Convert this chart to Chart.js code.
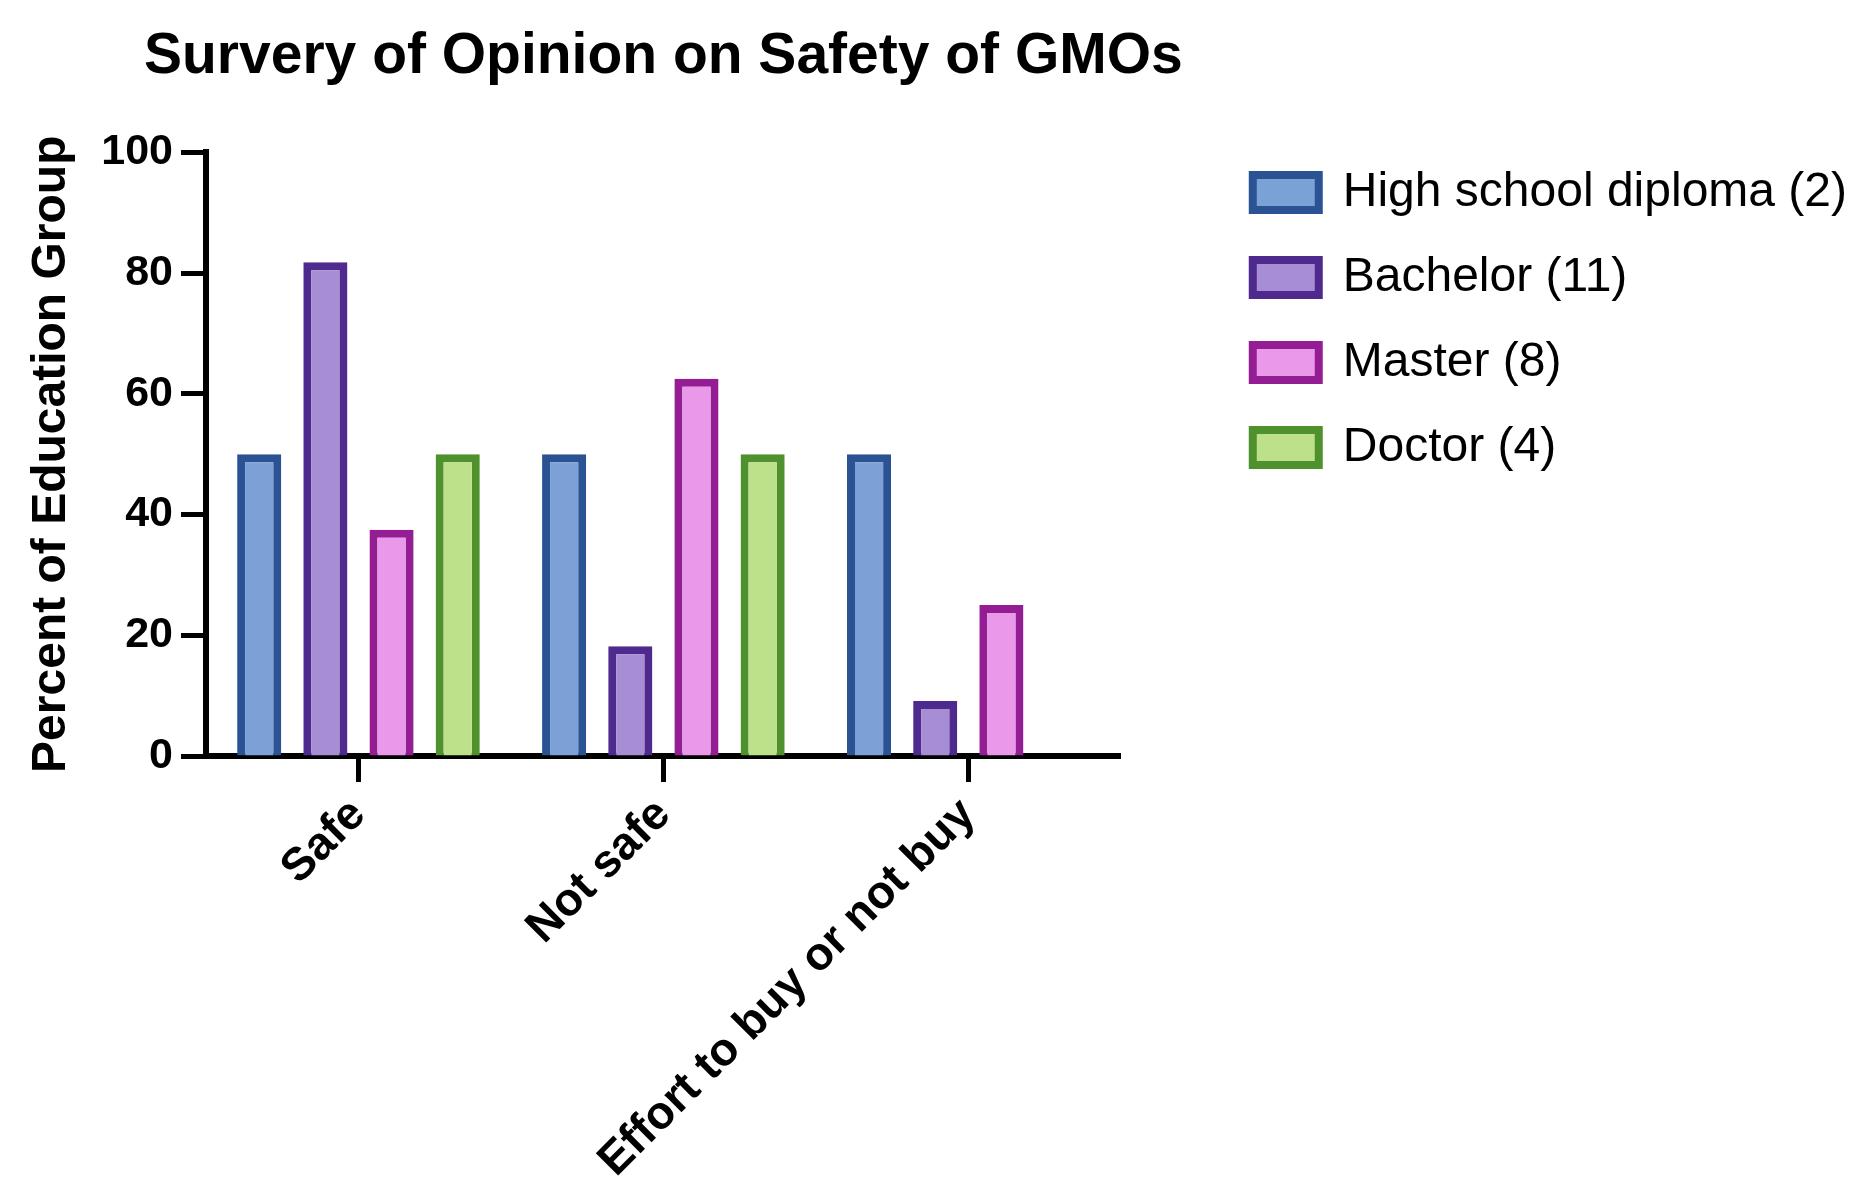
<!DOCTYPE html>
<html>
<head>
<meta charset="utf-8">
<script src="https://cdn.jsdelivr.net/npm/chart.js@4.4.0/dist/chart.umd.min.js"></script>
<style>
  html, body { margin: 0; padding: 0; background: #fff; }
  #wrap { width: 1871px; height: 1192px; }
</style>
</head>
<body>
<div id="wrap"><canvas id="chart"></canvas></div>
<script>
// values (percent of each education group)
const categories = ['Safe', 'Not safe', 'Effort to buy or not buy'];
const groupNames = ['High school diploma (2)', 'Bachelor (11)', 'Master (8)', 'Doctor (4)'];
const highSchool = [50, 50, 50];
const bachelor = [81.8, 18.2, 9.1];
const master = [37.5, 62.5, 25];
const doctor = [50, 50, null];
const yTicks = [0, 20, 40, 60, 80, 100];

const fillColors = ['#7ca1d6', '#a68dd4', '#ea98ea', '#bde08a'];
const edgeColors = ['#2b5393', '#4e2a8e', '#941d93', '#4f912c'];
const family = '"Liberation Sans", Arial, Helvetica, sans-serif';

let series = [highSchool, bachelor, master, doctor];

let datasets = series.map((vals, i) => ({
  label: groupNames[i],
  data: vals,
  backgroundColor: fillColors[i],
  borderColor: edgeColors[i],
  borderWidth: 8,
  categoryPercentage: 0.868,
  barPercentage: 0.667
}));

// title is centred over the plot, but must not be squeezed to the plot width
let widenTitle = {
  id: 'widenTitle',
  afterLayout(chart) {
    let t = chart.titleBlock;
    if (!t) return;
    t.left -= 150;
    t.right += 150;
    t.width += 300;
  }
};

let ctx = document.getElementById('chart').getContext('2d');
let chart = new Chart(ctx, {
  type: 'bar',
  data: { labels: categories, datasets: datasets },
  plugins: [widenTitle],
  options: {
    responsive: true,
    maintainAspectRatio: false,
    animation: false,
    layout: { padding: { right: 14 } },
    plugins: {
      title: {
        display: true,
        text: 'Survery of Opinion on Safety of GMOs',
        fullSize: false,
        color: '#000',
        font: { family: family, size: 57, weight: 'bold' },
        padding: { top: 23, bottom: 61 }
      },
      legend: {
        position: 'right',
        align: 'start',
        maxWidth: 800,
        title: { display: true, text: '', font: { size: 12 }, padding: { top: 117, bottom: 0 } },
        labels: {
          boxWidth: 66,
          boxHeight: 35,
          padding: 37,
          color: '#000',
          font: { family: family, size: 48 }
        }
      },
      tooltip: { enabled: false }
    },
    scales: {
      x: {
        grid: { display: true, drawOnChartArea: false, offset: false, tickLength: 26, tickWidth: 5, tickColor: '#000' },
        border: { display: true, color: '#000', width: 6 },
        ticks: {
          autoSkip: false,
          maxRotation: 45,
          minRotation: 45,
          padding: 6,
          color: '#000',
          font: { family: family, size: 46, weight: 'bold' }
        },
        afterFit: s => { s.height = 436; }
      },
      y: {
        min: yTicks[0],
        max: yTicks[yTicks.length - 1],
        grid: { display: true, drawOnChartArea: false, tickLength: 25, tickWidth: 5, tickColor: '#000' },
        border: { display: true, color: '#000', width: 6 },
        ticks: {
          stepSize: yTicks[1] - yTicks[0],
          padding: 8,
          color: '#000',
          font: { family: family, size: 43, weight: 'bold' }
        },
        title: {
          display: true,
          text: 'Percent of Education Group',
          color: '#000',
          font: { family: family, size: 48, weight: 'bold' },
          padding: { top: 23, bottom: 0 }
        },
        afterFit: s => { s.width = 206; }
      },
      // empty right axis, only keeps the gap between plot and legend
      gap: {
        type: 'linear',
        position: 'right',
        display: true,
        grid: { display: false },
        border: { display: false },
        ticks: { display: false },
        afterFit: s => { s.width = 95; }
      }
    }
  }
});
</script>
</body>
</html>
